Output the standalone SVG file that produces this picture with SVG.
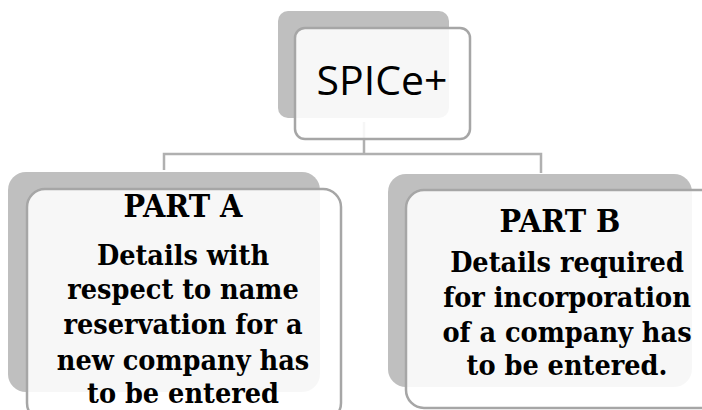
<svg xmlns="http://www.w3.org/2000/svg" width="702" height="410" viewBox="0 0 702 410">
  <style>
    .shadow { fill: #bfbfbf; }
    .card { fill: #ffffff; fill-opacity: 0.88; stroke: #a6a6a6; stroke-width: 2.5; }
    .link { fill: none; stroke: #b0b0b0; stroke-width: 2.5; }
    .title { font-family: "Open Sans", "Liberation Sans", sans-serif; font-size: 41px; fill: #000; text-anchor: middle; }
    .body { font-family: "DejaVu Serif Condensed", "DejaVu Serif", "Liberation Serif", serif; font-stretch: condensed; font-weight: bold; font-size: 28.5px; fill: #000; text-anchor: middle; }
    .head { font-size: 32px; }
  </style>
  <rect width="702" height="410" fill="#ffffff"/>

  <!-- connectors sit beneath the translucent cards -->
  <g id="connectors">
    <path class="link" d="M364,122 V154 M164,170 V154 H541 V173"/>
  </g>

  <g id="node-spice">
    <rect class="shadow" x="278" y="11" width="171" height="107" rx="10"/>
    <rect class="card" x="295" y="28" width="175" height="111" rx="10"/>
    <text class="title" x="382" y="95">SPICe+</text>
  </g>

  <g id="node-part-a">
    <rect class="shadow" x="8" y="172" width="312" height="220" rx="18"/>
    <rect class="card" x="27" y="189" width="314" height="232" rx="18"/>
    <text class="body head" x="183" y="217">PART A</text>
    <text class="body" x="183" y="265">Details with</text>
    <text class="body" x="183" y="299">respect to name</text>
    <text class="body" x="183" y="334">reservation for a</text>
    <text class="body" x="183" y="370">new company has</text>
    <text class="body" x="183" y="403">to be entered</text>
  </g>

  <g id="node-part-b">
    <rect class="shadow" x="388" y="174" width="304" height="213" rx="18"/>
    <rect class="card" x="406" y="190" width="312" height="218" rx="18"/>
    <text class="body head" x="560" y="232">PART B</text>
    <text class="body" x="567" y="272">Details required</text>
    <text class="body" x="567" y="307">for incorporation</text>
    <text class="body" x="567" y="342">of a company has</text>
    <text class="body" x="567" y="375">to be entered.</text>
  </g>
</svg>
